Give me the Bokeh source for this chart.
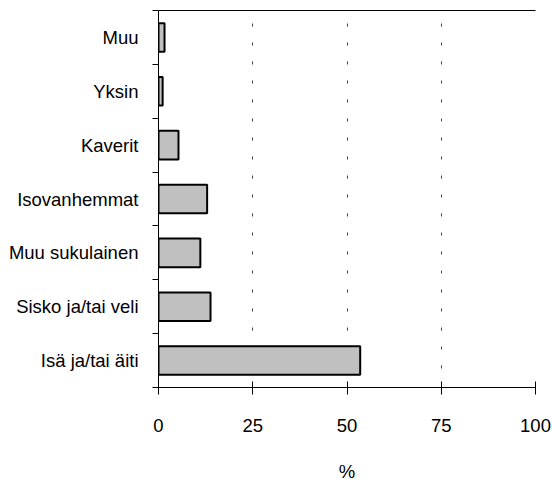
from bokeh.plotting import figure
from bokeh.models import Range1d, FixedTicker, LinearAxis
from bokeh.embed import file_html
from bokeh.resources import INLINE

categories = ["Isä ja/tai äiti", "Sisko ja/tai veli", "Muu sukulainen",
              "Isovanhemmat", "Kaverit", "Yksin", "Muu"]
values = [53.5, 13.8, 11.1, 12.9, 5.3, 1.1, 1.6]
x_ticks = [0, 25, 50, 75, 100]
grid_ticks = [25, 50, 75, 100]
x_label = "%"

FONT = "Liberation Sans"

n = len(categories)
centers = [i + 0.5 for i in range(n)]
bounds = list(range(n + 1))

p = figure(width=552, height=484,
           x_range=Range1d(0, 100), y_range=Range1d(0, n),
           output_backend="svg", toolbar_location=None,
           min_border_left=158, min_border_right=17,
           min_border_top=10, min_border_bottom=96)
p.outline_line_color = None
p.background_fill_color = "white"

p.hbar(y=centers, left=0, right=values, height=0.53,
       fill_color="#c0c0c0", line_color="black", line_width=2)

# x axis
xa = p.xaxis[0]
xa.ticker = FixedTicker(ticks=x_ticks)
xa.major_tick_in = 6
xa.major_tick_out = 7
xa.minor_tick_in = 0
xa.minor_tick_out = 0
xa.axis_line_color = "black"
xa.major_tick_line_color = "black"
xa.major_label_text_font = FONT
xa.major_label_text_font_size = "18.5px"
xa.major_label_text_color = "black"
xa.major_label_standoff = 24
xa.axis_label = x_label
xa.axis_label_text_font = FONT
xa.axis_label_text_font_size = "18.5px"
xa.axis_label_text_font_style = "normal"
xa.axis_label_text_color = "black"
xa.axis_label_standoff = 26

# y axis
ya = p.yaxis[0]
ya.ticker = FixedTicker(ticks=centers, minor_ticks=bounds)
ya.major_label_overrides = {c: name for c, name in zip(centers, categories)}
ya.major_tick_in = 0
ya.major_tick_out = 0
ya.minor_tick_in = 0
ya.minor_tick_out = 6
ya.minor_tick_line_color = "black"
ya.axis_line_color = "black"
ya.major_label_text_font = FONT
ya.major_label_text_font_size = "18.5px"
ya.major_label_text_color = "black"
ya.major_label_standoff = 14

# top border line
top = LinearAxis(ticker=FixedTicker(ticks=[]), major_tick_in=0, major_tick_out=0,
                 minor_tick_in=0, minor_tick_out=0, major_label_text_font_size="0px",
                 axis_line_color="black", major_label_standoff=0)
p.add_layout(top, "above")

p.ygrid.grid_line_color = None
p.xgrid.ticker = FixedTicker(ticks=grid_ticks)
p.xgrid.grid_line_color = "#404040"
p.xgrid.grid_line_dash = "3 16"
p.xgrid.grid_line_width = 1

open("out.html", "w").write(file_html(p, INLINE))
